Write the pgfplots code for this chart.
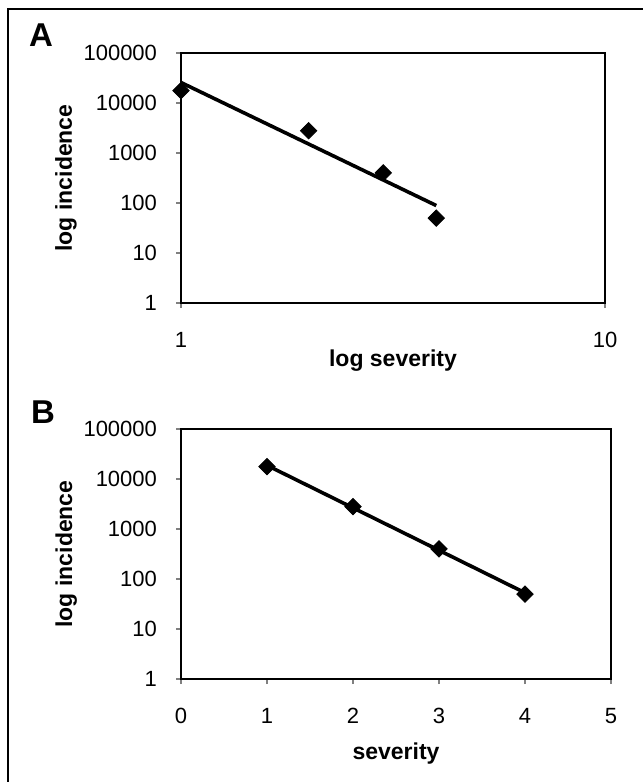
\documentclass[border=0pt]{standalone}
\usepackage{fontspec}
\setmainfont{Liberation Sans}
\usepackage{pgfplots}
\pgfplotsset{compat=1.18}

% shared look of both panels (1 px of the reference = 0.5pt)
\pgfplotsset{panel/.style={
    scale only axis, clip=false,
    axis line style={line width=1pt},
    ymin=1, ymax=100000,
    ytick={1,10,100,1000,10000,100000},
    yticklabels={1,10,100,1000,10000,100000},
    tick align=outside, tick pos=left, major tick length=2.5pt,
    every tick/.style={gray, line width=0.6pt},
    tick label style={font=\fontsize{11}{13}\selectfont},
    yticklabel style={anchor=east, xshift=-6pt},
    xticklabel style={anchor=center, yshift=-16pt},
    ylabel={log incidence},
}}

\begin{document}
\begin{tikzpicture}
% frame (only top and left edges visible in the reference)
\draw[line width=1pt] (4pt,-391pt) -- (4pt,-4.5pt) -- (321.5pt,-4.5pt);

\node[font=\bfseries\fontsize{16.5}{18}\selectfont] at (20.5pt,-17.5pt) {A};
\node[font=\bfseries\fontsize{16.5}{18}\selectfont] at (21.5pt,-206pt) {B};

% panel A: log-log with power trend line
\begin{axis}[xmode=log, ymode=log, panel,
    yminorticks=false, xminorticks=false,
    at={(90.5pt,-151.5pt)}, anchor=south west,
    width=212pt, height=125pt,
    xmin=1, xmax=10,
    xtick={1,10}, xticklabels={1,10},
    xlabel={log severity},
    every axis x label/.style={at={(axis description cs:0.5,-0.232)}, anchor=center,
        font=\bfseries\fontsize{11.5}{13}\selectfont},
    every axis y label/.style={at={(axis description cs:-0.271,0.5)}, rotate=90, anchor=center,
        font=\bfseries\fontsize{11.5}{13}\selectfont},
]
\addplot[black, line width=1.8pt, mark=none] coordinates {(1,25700) (4,89)};
\addplot[only marks, mark=square*, mark size=2.9pt, mark options={rotate=45, fill=black, draw=black}]
    coordinates {(1,17700) (2,2800) (3,400) (4,50)};
\end{axis}

% panel B: semi-log with exponential trend line
\begin{axis}[ymode=log, panel,
    yminorticks=false,
    at={(90.5pt,-339.5pt)}, anchor=south west,
    width=215pt, height=125pt,
    xmin=0, xmax=5, xtick={0,1,2,3,4,5}, xticklabels={0,1,2,3,4,5},
    xlabel={severity},
    every axis x label/.style={at={(axis description cs:0.5,-0.3)}, anchor=center,
        font=\bfseries\fontsize{11.5}{13}\selectfont},
    every axis y label/.style={at={(axis description cs:-0.267,0.5)}, rotate=90, anchor=center,
        font=\bfseries\fontsize{11.5}{13}\selectfont},
]
\addplot[black, line width=1.8pt, mark=none] coordinates {(1,18750) (4,53)};
\addplot[only marks, mark=square*, mark size=2.9pt, mark options={rotate=45, fill=black, draw=black}]
    coordinates {(1,17700) (2,2800) (3,400) (4,50)};
\end{axis}

\pgfresetboundingbox
\useasboundingbox (0,0) rectangle (321.5pt,-391pt);
\end{tikzpicture}
\end{document}
